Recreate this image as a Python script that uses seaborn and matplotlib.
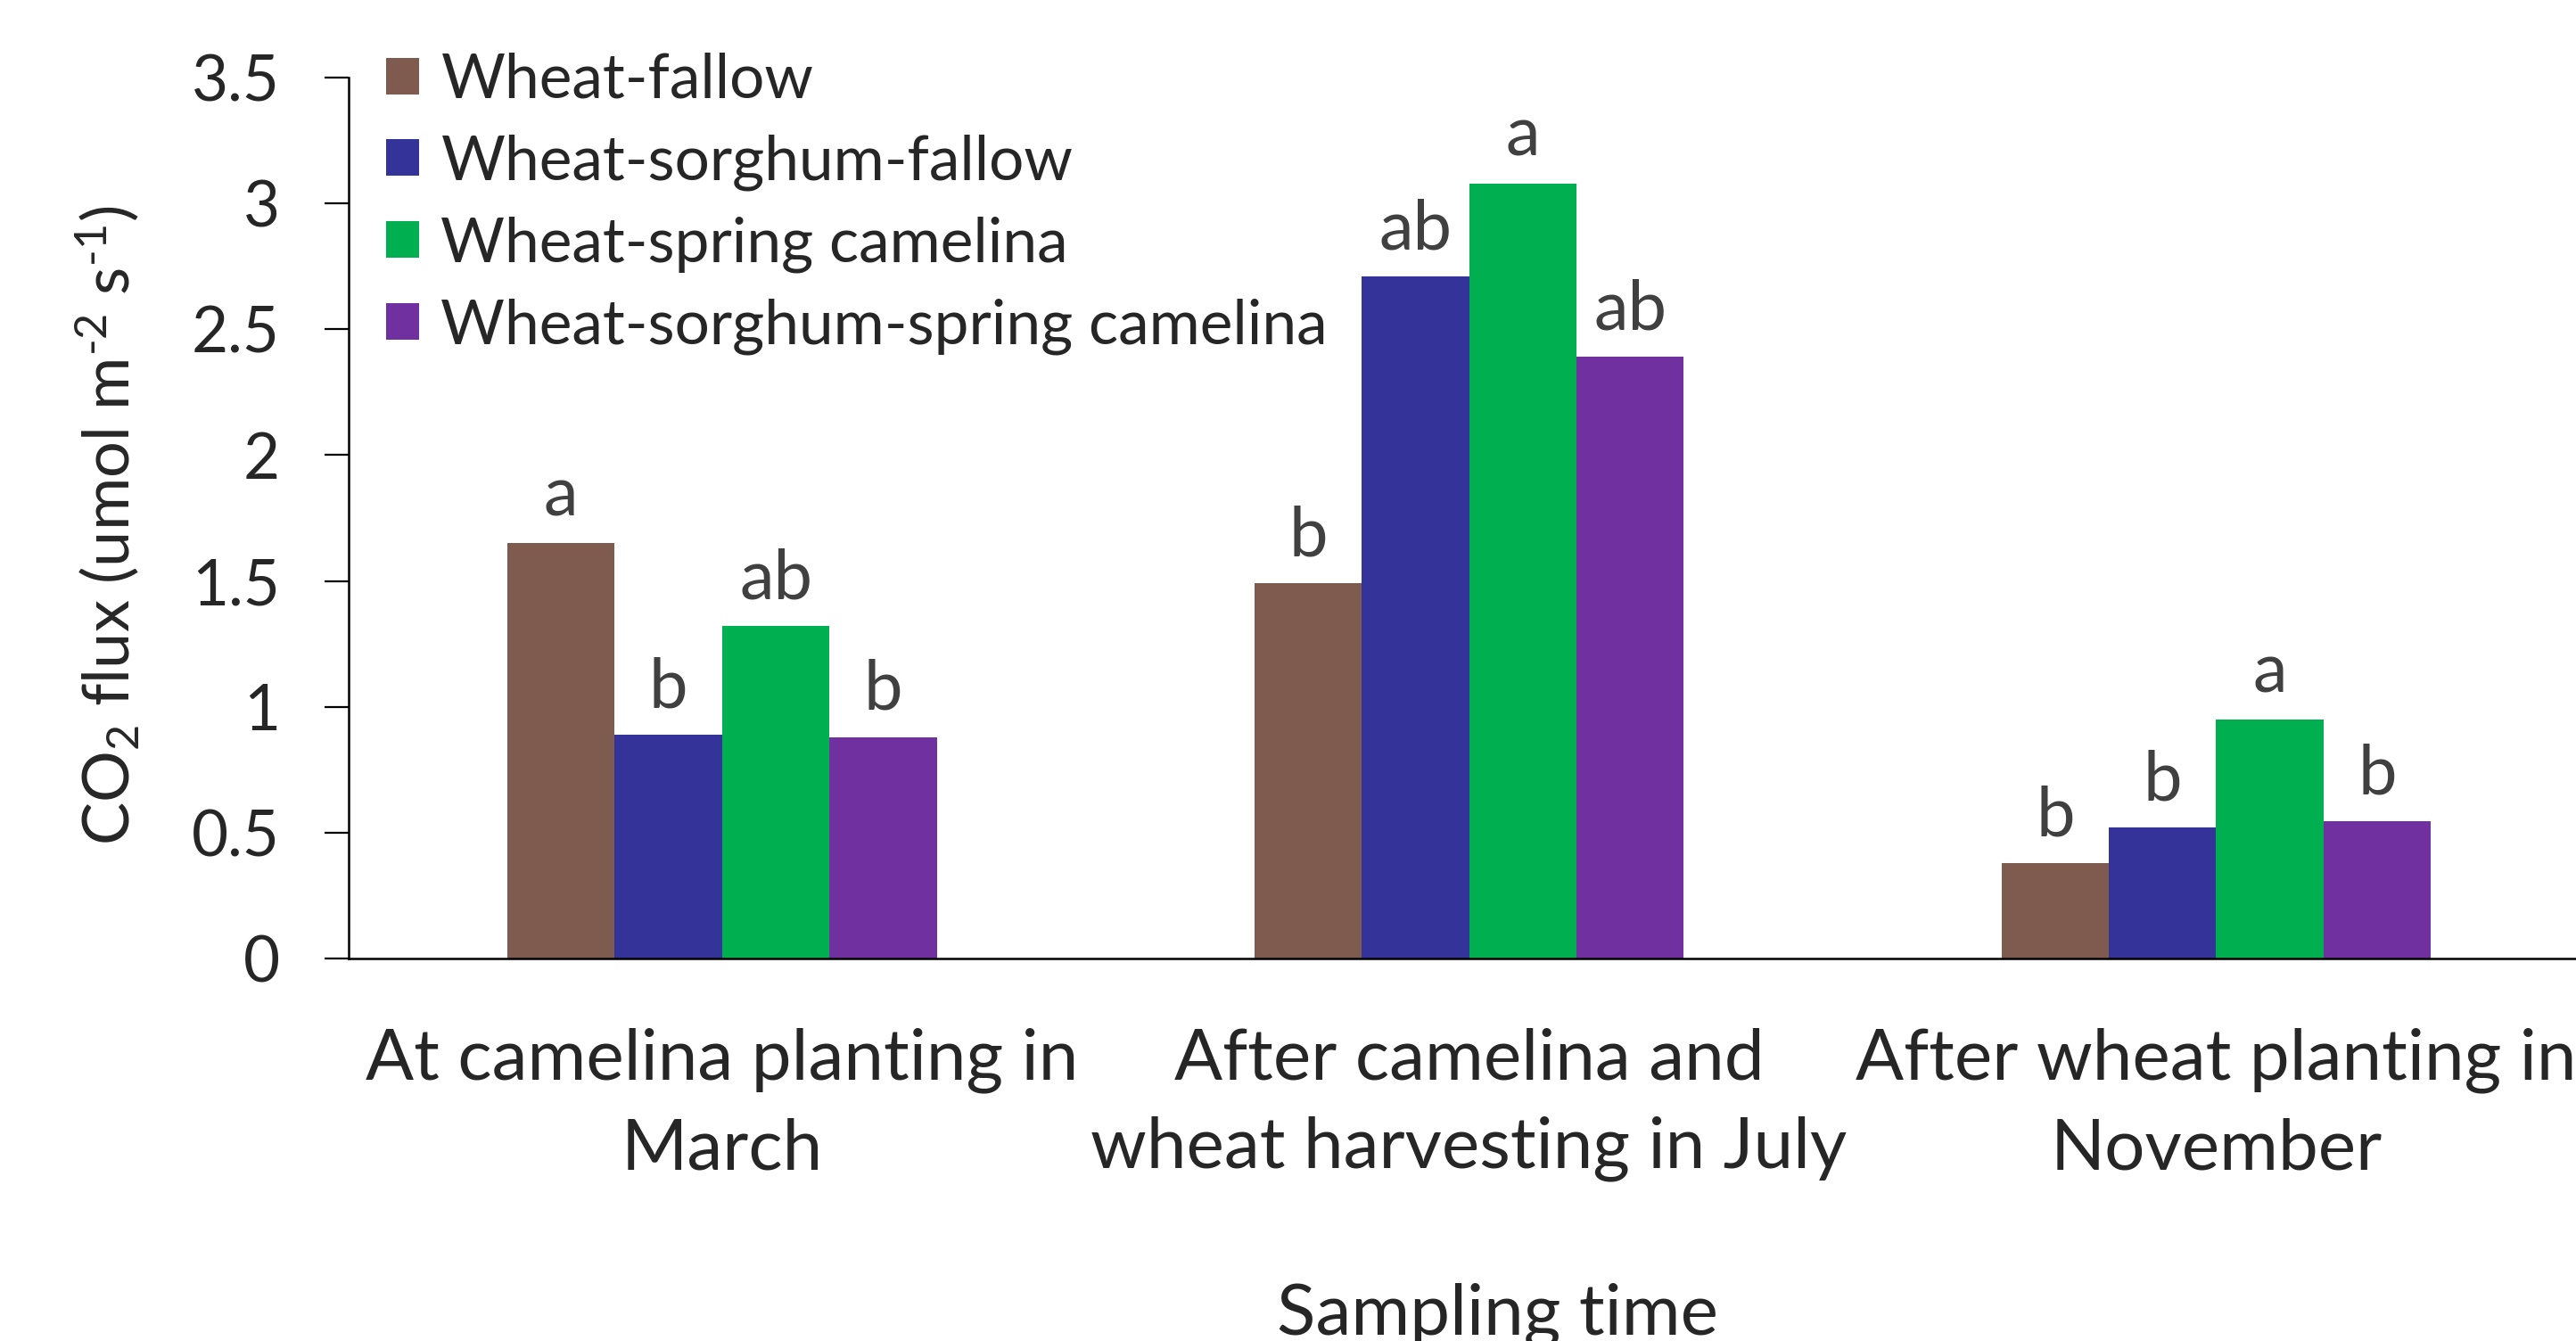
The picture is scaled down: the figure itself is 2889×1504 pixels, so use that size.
import pandas as pd
import matplotlib
matplotlib.use("Agg")
import matplotlib.pyplot as plt
import seaborn as sns

# --- Data ---
sampling_times = [
    "At camelina planting in\nMarch",
    "After camelina and\nwheat harvesting in July",
    "After wheat planting in\nNovember",
]
rotations = [
    "Wheat-fallow",
    "Wheat-sorghum-fallow",
    "Wheat-spring camelina",
    "Wheat-sorghum-spring camelina",
]
wheat_fallow = [1.65, 1.49, 0.38]
wheat_sorghum_fallow = [0.89, 2.71, 0.52]
wheat_spring_camelina = [1.32, 3.08, 0.95]
wheat_sorghum_spring_camelina = [0.88, 2.39, 0.545]

letters_wf = ["a", "b", "b"]
letters_wsf = ["b", "ab", "b"]
letters_wsc = ["ab", "a", "a"]
letters_wssc = ["b", "ab", "b"]

y_ticks = [0, 0.5, 1, 1.5, 2, 2.5, 3, 3.5]
y_tick_labels = ["0", "0.5", "1", "1.5", "2", "2.5", "3", "3.5"]

colors = ["#7F5A4F", "#333399", "#00B050", "#7030A0"]

# --- Build long table ---
series_values = [wheat_fallow, wheat_sorghum_fallow, wheat_spring_camelina, wheat_sorghum_spring_camelina]
series_letters = [letters_wf, letters_wsf, letters_wsc, letters_wssc]
rows = []
for name, vals in zip(rotations, series_values):
    for t, v in zip(sampling_times, vals):
        rows.append({"time": t, "rotation": name, "flux": v})
df = pd.DataFrame(rows)

# --- Style ---
sns.set_style("ticks")
plt.rcParams["font.family"] = ["Lato", "DejaVu Sans"]
plt.rcParams["mathtext.fontset"] = "custom"
plt.rcParams["mathtext.rm"] = "Lato"
plt.rcParams["mathtext.default"] = "regular"

fig = plt.figure(figsize=(14.445, 7.52), dpi=200)
# plot area runs a little past the right edge, like the original export
ax = fig.add_axes([0.1353, 0.2852, 0.870, 0.657])

sns.barplot(
    data=df, x="time", y="flux", hue="rotation",
    order=sampling_times, hue_order=rotations,
    palette=colors, width=0.575, gap=0, linewidth=0,
    saturation=1, ax=ax, errorbar=None,
)

for cont, labs in zip(ax.containers, series_letters):
    ax.bar_label(cont, labels=labs, padding=6, fontsize=28, color="#404040")

ax.set_ylim(0, 3.5)
ax.set_xlim(-0.5, 2.5)
ax.set_yticks(y_ticks)
ax.set_yticklabels(y_tick_labels, fontsize=25.5)
ax.tick_params(axis="y", length=9.7, width=0.8, color="black", pad=18)
ax.tick_params(axis="x", length=0, pad=28, labelsize=28.8)
for lab in ax.get_xticklabels():
    lab.set_linespacing(1.46)

sns.despine(ax=ax)
for s in ["left", "bottom"]:
    ax.spines[s].set_linewidth(0.9)
    ax.spines[s].set_color("black")

ax.set_xlabel("")
ax.set_ylabel("")
fig.text(0.0415, 0.608, r"CO$_2$ flux (umol m$^{\text{-}2}$ s$^{\text{-}1}$)",
         rotation=90, ha="center", va="center", fontsize=26)
fig.text(0.5815, 0.0053, "Sampling time", ha="center", va="baseline", fontsize=28.8)

leg = ax.legend(
    loc="upper left", bbox_to_anchor=(0.15, 0.961), bbox_transform=fig.transFigure,
    frameon=False, fontsize=25, handlelength=0.53, handleheight=0.53,
    handletextpad=0.35, labelspacing=0.41, borderpad=0, borderaxespad=0,
)

fig.savefig("out.png", dpi=200)
